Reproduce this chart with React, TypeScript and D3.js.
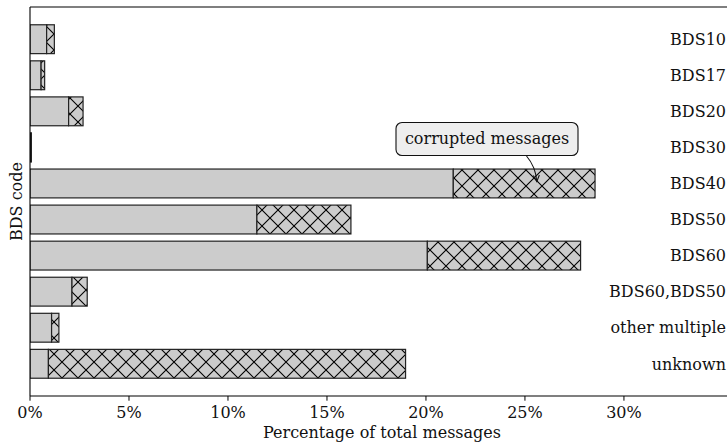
import React from "react";
import * as d3 from "d3";

const categories = ["BDS10", "BDS17", "BDS20", "BDS30", "BDS40", "BDS50", "BDS60", "BDS60,BDS50", "other multiple", "unknown"];
const validPct = [0.84, 0.56, 1.95, 0.05, 21.38, 11.46, 20.07, 2.12, 1.09, 0.93];
const totalPct = [1.23, 0.74, 2.68, 0.07, 28.54, 16.21, 27.81, 2.89, 1.46, 18.97];
const xTicks = [0, 5, 10, 15, 20, 25, 30];
const annotationText = "corrupted messages";
const xLabel = "Percentage of total messages";
const yLabel = "BDS code";

const W = 727;
const H = 442;
const FONT = "'DejaVu Serif', serif";
const FS = 16;

export default function App() {
  const left = 30, right = 736, top = 7, bottom = 396;
  const x = d3.scaleLinear().domain([0, 35.66]).range([left, right]);
  const y = d3.scaleLinear().domain([0, categories.length - 1]).range([39.2, 363.8]);
  const step = y(1) - y(0);
  const bh = step * 0.8;
  const hs = 16;

  // annotation
  const ai = 4;
  const ax = x(25.6), ay = y(ai) - 2;
  const bx0 = 396, bx1 = 578, by0 = 122.5, by1 = 155.5;
  const sx = 526.5, sy = by1 + 0.5;
  const cx = (sx + ax) / 2 + 4, cy = (sy + ay) / 2 - 2;
  const ang = Math.atan2(ay - cy, ax - cx);
  const ah = 7, aw = 0.45;
  const p1 = [ax - ah * Math.cos(ang - aw), ay - ah * Math.sin(ang - aw)];
  const p2 = [ax - ah * Math.cos(ang + aw), ay - ah * Math.sin(ang + aw)];

  return (
    <svg width={W} height={H} style={{ position: "absolute", left: 0, top: 0, background: "#fff" }} fontFamily={FONT}>
      <defs>
        <pattern id="hatch" patternUnits="userSpaceOnUse" width={hs} height={hs} patternTransform="translate(254,378)">
          <path d={`M0,0L${hs},${hs}M0,${hs}L${hs},0M${-hs / 2},${hs / 2}L0,${hs}M${hs},0L${hs * 1.5},${hs / 2}`} stroke="#000" strokeWidth={1.1} fill="none" />
        </pattern>
        <clipPath id="plot"><rect x={left} y={top} width={right - left} height={bottom - top} /></clipPath>
      </defs>
      <g clipPath="url(#plot)">
        {categories.map((c, i) => {
          const yy = y(i) - bh / 2;
          const x0 = x(0), x1 = x(validPct[i]), x2 = x(totalPct[i]);
          return (
            <g key={c}>
              <rect x={x0} y={yy} width={x1 - x0} height={bh} fill="#cccccc" stroke="#222" strokeWidth={1.2} />
              <rect x={x1} y={yy} width={x2 - x1} height={bh} fill="#cccccc" />
              <rect x={x1} y={yy} width={x2 - x1} height={bh} fill="url(#hatch)" stroke="#222" strokeWidth={1.2} />
            </g>
          );
        })}
      </g>
      {categories.map((c, i) => (
        <text key={"l" + c} x={726} y={y(i)} dy="0.36em" textAnchor="end" fontSize={FS} fill="#111">{c}</text>
      ))}
      {/* spines */}
      <line x1={left} y1={top} x2={right} y2={top} stroke="#000" strokeWidth={1.1} />
      <line x1={left} y1={bottom} x2={right} y2={bottom} stroke="#000" strokeWidth={1.1} />
      <line x1={left} y1={top} x2={left} y2={bottom} stroke="#000" strokeWidth={1.1} />
      {xTicks.map((t) => (
        <g key={t} transform={`translate(${x(t)},${bottom})`}>
          <line y2={4.7} stroke="#000" strokeWidth={1} />
          <text y={21.5} textAnchor="middle" fontSize={FS} fill="#111">{`${t}%`}</text>
        </g>
      ))}
      <text x={382} y={438} textAnchor="middle" fontSize={FS} fill="#111">{xLabel}</text>
      <text transform={`translate(21.5,${(top + bottom) / 2}) rotate(-90)`} textAnchor="middle" fontSize={FS} fill="#111">{yLabel}</text>
      {/* annotation */}
      <rect x={bx0} y={by0} width={bx1 - bx0} height={by1 - by0} rx={6} ry={6} fill="#eeeeee" stroke="#111" strokeWidth={1.1} />
      <text x={(bx0 + bx1) / 2} y={144} textAnchor="middle" fontSize={FS} fill="#111">{annotationText}</text>
      <path d={`M${sx},${sy}Q${cx},${cy} ${ax},${ay}`} fill="none" stroke="#111" strokeWidth={1.1} />
      <path d={`M${p1[0]},${p1[1]}L${ax},${ay}L${p2[0]},${p2[1]}`} fill="none" stroke="#111" strokeWidth={1.1} />
    </svg>
  );
}
